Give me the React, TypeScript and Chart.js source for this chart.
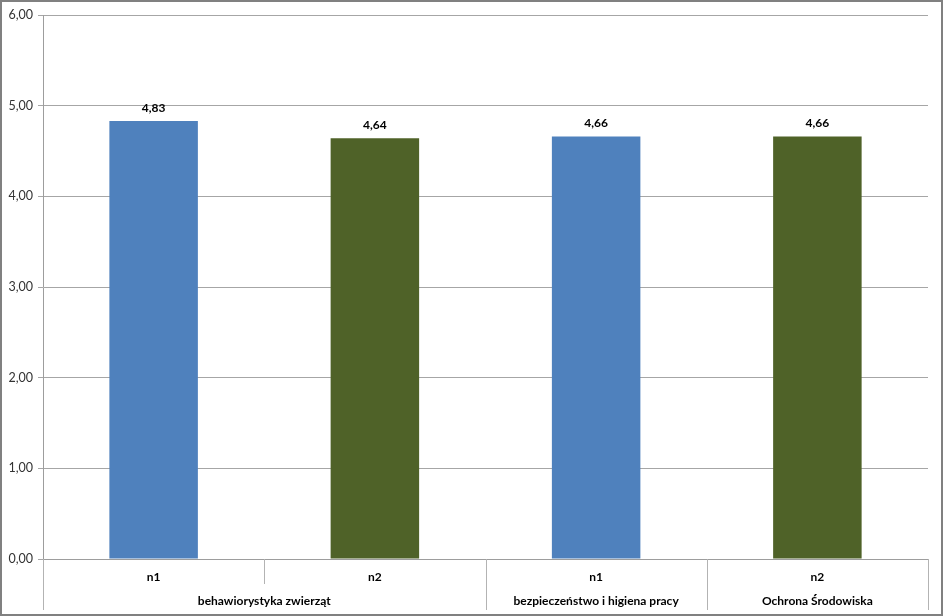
import React, { useEffect, useRef } from "react";
import { Chart, registerables } from "chart.js";

Chart.register(...registerables);

const categories = ["n1", "n2", "n1", "n2"];
const values = [4.83, 4.64, 4.66, 4.66];
const groupLabels = ["behawiorystyka zwierząt", "bezpieczeństwo i higiena pracy", "Ochrona Środowiska"];
const groupSpans = [2, 1, 1];
const yMin = 0;
const yMax = 6;
const yStep = 1;

const barColors = ["#4F81BD", "#4F6228", "#4F81BD", "#4F6228"];
const FONT = "Lato, 'Open Sans', sans-serif";

const fmt = (v: number) => v.toFixed(2).replace(".", ",");

const groupAxisPlugin = {
  id: "groupAxis",
  afterDraw(chart: any) {
    const ctx = chart.ctx;
    const x = chart.scales.x;
    const area = chart.chartArea;
    const n = categories.length;
    const bounds = new Set<number>([0]);
    let acc = 0;
    groupSpans.forEach((s) => {
      acc += s;
      bounds.add(acc);
    });
    ctx.save();
    ctx.strokeStyle = "#B3B3B3";
    ctx.lineWidth = 1;
    for (let i = 0; i <= n; i++) {
      const px = Math.round(x.getPixelForValue(i - 0.5)) + 0.5;
      const end = bounds.has(i) ? area.bottom + 51 : area.bottom + 25;
      ctx.beginPath();
      ctx.moveTo(px, area.bottom);
      ctx.lineTo(px, end);
      ctx.stroke();
    }
    ctx.fillStyle = "#000";
    ctx.font = `bold 12px ${FONT}`;
    ctx.textAlign = "center";
    ctx.textBaseline = "middle";
    let start = 0;
    groupLabels.forEach((lab, gi) => {
      const span = groupSpans[gi];
      const center = start + (span - 1) / 2;
      ctx.fillText(lab, x.getPixelForValue(center), area.bottom + 42);
      start += span;
    });
    // outer frame
    ctx.strokeStyle = "#808080";
    ctx.lineWidth = 2;
    ctx.strokeRect(1, 1, chart.width - 2, chart.height - 2);
    ctx.restore();
  },
};

const dataLabelPlugin = {
  id: "dataLabels",
  afterDatasetsDraw(chart: any) {
    const ctx = chart.ctx;
    const meta = chart.getDatasetMeta(0);
    ctx.save();
    ctx.fillStyle = "#000";
    ctx.font = `bold 12px ${FONT}`;
    ctx.textAlign = "center";
    ctx.textBaseline = "bottom";
    meta.data.forEach((bar: any, i: number) => {
      ctx.fillText(fmt(values[i]), bar.x, bar.y - 7);
    });
    ctx.restore();
  },
};

export default function App() {
  const ref = useRef<HTMLCanvasElement | null>(null);

  useEffect(() => {
    if (!ref.current) return;
    const chart = new Chart(ref.current, {
      type: "bar",
      data: {
        labels: categories,
        datasets: [
          {
            data: values,
            backgroundColor: barColors,
            borderWidth: 0,
            barPercentage: 0.4,
            categoryPercentage: 1,
          },
        ],
      },
      options: {
        responsive: false,
        animation: false,
        devicePixelRatio: 1,
        layout: { padding: { left: 0, top: 15, right: 15, bottom: 0 } },
        plugins: {
          legend: { display: false },
          tooltip: { enabled: false },
        },
        scales: {
          x: {
            offset: true,
            grid: { display: false },
            border: { display: true, color: "#9D9D9D" },
            ticks: {
              color: "#000",
              font: { family: FONT, size: 12, weight: "bold" },
              padding: 3,
              maxRotation: 0,
            },
            afterFit: (s: any) => {
              s.height = 57;
            },
          },
          y: {
            min: yMin,
            max: yMax,
            ticks: {
              stepSize: yStep,
              color: "#333",
              font: { family: FONT, size: 12.5 },
              padding: 5,
              callback: (v: any) => fmt(Number(v)),
            },
            grid: { color: "#A6A6A6", tickLength: 5, drawTicks: true },
            border: { display: true, color: "#9D9D9D" },
            afterFit: (s: any) => {
              s.width = 43;
            },
          },
        },
      },
      plugins: [groupAxisPlugin, dataLabelPlugin],
    });
    return () => chart.destroy();
  }, []);

  return (
    <div style={{ position: "absolute", left: 0, top: 0, width: 943, height: 616, background: "#fff" }}>
      <canvas ref={ref} width={943} height={616} style={{ display: "block" }} />
    </div>
  );
}
